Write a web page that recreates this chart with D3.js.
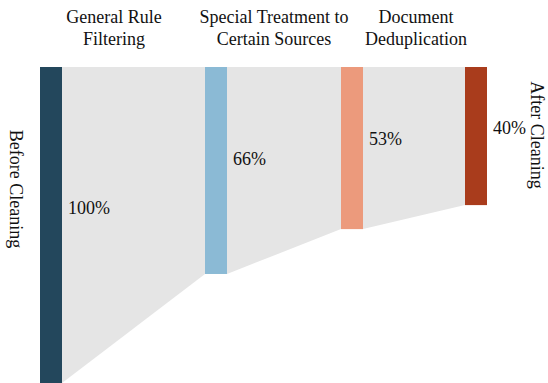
<html>
<body style="margin:0">
<div id="chart"></div>
<script src="https://d3js.org/d3.v7.min.js"></script>
<script>

// stages of the cleaning funnel
var stages = ["before", "rule", "special", "dedup"]
var remain = [100, 65.5, 51.3, 43.7]          // bar height, % of raw data
var pctLabels = ["100%", "66%", "53%", "40%"]
var stepNames = [["General Rule", "Filtering"], ["Special Treatment to", "Certain Sources"], ["Document", "Deduplication"]]
var colors = ["#23475c", "#8bbad5", "#ec9a7c", "#a93c1c"]

var W = 548, H = 383
var top0 = 67, barW = 22
var FONT = "Liberation Serif, Times New Roman, serif"

var svg = d3.select("#chart").append("svg")
    .attr("width", W).attr("height", H)

var x = d3.scaleOrdinal()
    .domain(stages)
    .range([51, 216, 352, 476])

var y = d3.scaleLinear()
    .domain([0, 100])
    .range([0, 316])

// grey flow bands between bars
var links = d3.pairs(stages.map((s, i) => ({s: s, v: remain[i]})))
svg.selectAll(".band")
    .data(links)
    .enter().append("path")
    .attr("class", "band")
    .attr("fill", "#e5e5e5")
    .attr("d", function(d){
        var x0 = x(d[0].s) + barW/2, x1 = x(d[1].s) - barW/2
        return "M" + x0 + "," + top0 + "L" + x1 + "," + top0 +
            "L" + x1 + "," + (top0 + y(d[1].v)) + "L" + x0 + "," + (top0 + y(d[0].v)) + "Z"
    })

svg.selectAll(".bar")
    .data(stages)
    .enter().append("rect")
    .attr("class", "bar")
    .attr("x", d => x(d) - barW/2)
    .attr("y", top0)
    .attr("width", barW)
    .attr("height", (d, i) => y(remain[i]))
    .attr("fill", (d, i) => colors[i])

svg.selectAll(".pct")
    .data(stages)
    .enter().append("text")
    .attr("class", "pct")
    .attr("x", d => x(d) + barW/2 + 6)
    .attr("y", (d, i) => top0 + y(remain[i]) * 0.45 + 5)
    .attr("font-family", FONT)
    .attr("font-size", 18)
    .attr("fill", "#111")
    .text((d, i) => pctLabels[i])

// step titles, centred over the gaps
var titleX = [114, 274, 416]
stepNames.forEach(function(lines, i){
    var t = svg.append("text")
        .attr("text-anchor", "middle")
        .attr("font-family", FONT)
        .attr("font-size", 18)
        .attr("fill", "#111")
    lines.forEach(function(l, j){
        t.append("tspan").attr("x", titleX[i]).attr("y", 23 + j*22).text(l)
    })
})

svg.append("text")
    .attr("transform", "translate(16,189) rotate(90)")
    .attr("text-anchor", "middle")
    .attr("dominant-baseline", "central")
    .attr("font-family", FONT)
    .attr("font-size", 18)
    .attr("fill", "#111")
    .text("Before Cleaning")

svg.append("text")
    .attr("transform", "translate(537,135) rotate(90)")
    .attr("text-anchor", "middle")
    .attr("dominant-baseline", "central")
    .attr("font-family", FONT)
    .attr("font-size", 18)
    .attr("fill", "#111")
    .text("After Cleaning")

</script>
</body>
</html>
